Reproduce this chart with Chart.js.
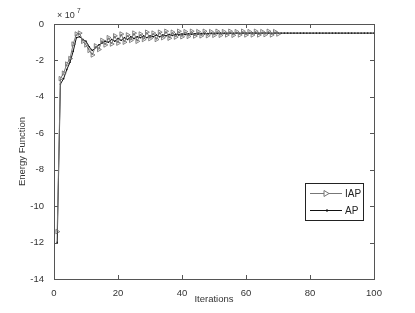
<!DOCTYPE html>
<html>
<head>
<meta charset="utf-8">
<script src="https://cdn.jsdelivr.net/npm/chart.js@4/dist/chart.umd.min.js"></script>
<style>
    html, body { margin: 0; padding: 0; background: #fff; }
    #wrap { width: 415px; height: 313px; position: relative; }
</style>
</head>
<body>
<div id="wrap"><canvas id="energyChart"></canvas></div>
<script>
    // energy values, in units of 1e7
    const apValues = [
        -12.0, -3.3, -3.0, -2.5, -2.1, -1.5, -0.75, -0.7, -0.85, -0.95,
        -1.25, -1.45, -1.3, -1.15, -1.05, -0.95, -1.0, -0.85, -0.95, -0.8,
        -0.9, -0.75, -0.85, -0.7, -0.8, -0.7, -0.75, -0.65, -0.75, -0.65,
        -0.7, -0.6, -0.7, -0.6, -0.65, -0.58, -0.63, -0.56, -0.6, -0.55,
        -0.58, -0.54, -0.56, -0.53, -0.55, -0.52, -0.54, -0.52, -0.53, -0.51,
        -0.52, -0.5, -0.52, -0.51, -0.5, -0.51, -0.5, -0.51, -0.5, -0.5,
        -0.51, -0.5, -0.5, -0.51, -0.5, -0.5, -0.5, -0.51, -0.5, -0.5,
        -0.5, -0.5, -0.5, -0.5, -0.5, -0.5, -0.5, -0.5, -0.5, -0.5,
        -0.5, -0.5, -0.5, -0.5, -0.5, -0.5, -0.5, -0.5, -0.5, -0.5,
        -0.5, -0.5, -0.5, -0.5, -0.5, -0.5, -0.5, -0.5, -0.5, -0.5
    ];
    const iapValues = [
        -11.4, -3.0, -2.7, -2.2, -1.9, -1.1, -0.55, -0.5, -0.95, -1.15,
        -1.45, -1.7, -1.2, -1.4, -0.9, -1.15, -0.75, -1.1, -0.65, -1.05,
        -0.55, -1.0, -0.6, -0.9, -0.5, -0.95, -0.55, -0.85, -0.45, -0.8,
        -0.5, -0.85, -0.45, -0.75, -0.4, -0.78, -0.45, -0.72, -0.4, -0.7,
        -0.42, -0.68, -0.4, -0.66, -0.42, -0.65, -0.4, -0.64, -0.42, -0.62,
        -0.4, -0.62, -0.42, -0.6, -0.4, -0.62, -0.42, -0.6, -0.4, -0.6,
        -0.42, -0.6, -0.4, -0.6, -0.42, -0.58, -0.4, -0.6, -0.42, -0.55
    ];
    const xTicks = [0, 20, 40, 60, 80, 100];
    const yTicks = [-14, -12, -10, -8, -6, -4, -2, 0];

    const toPoints = vals => vals.map((v, i) => ({ x: i + 1, y: v }));

    const FONT = 'Liberation Sans, Arial, sans-serif';

    // MATLAB-ish box, inward ticks, exponent note and legend
    const matlabFrame = {
        id: 'matlabFrame',
        afterDraw(chart) {
            const { ctx, chartArea: a, scales: { x, y } } = chart;
            ctx.save();
            ctx.lineWidth = 1;
            ctx.strokeStyle = '#555';
            ctx.strokeRect(a.left + 0.5, a.top + 0.5, a.right - a.left, a.bottom - a.top);

            ctx.beginPath();
            xTicks.forEach(t => {
                const px = Math.round(x.getPixelForValue(t)) + 0.5;
                ctx.moveTo(px, a.bottom); ctx.lineTo(px, a.bottom - 4);
                ctx.moveTo(px, a.top); ctx.lineTo(px, a.top + 4);
            });
            yTicks.forEach(t => {
                const py = Math.round(y.getPixelForValue(t)) + 0.5;
                ctx.moveTo(a.left, py); ctx.lineTo(a.left + 4, py);
                ctx.moveTo(a.right, py); ctx.lineTo(a.right - 4, py);
            });
            ctx.stroke();

            // exponent
            ctx.fillStyle = '#333';
            ctx.font = '9px ' + FONT;
            ctx.textBaseline = 'alphabetic';
            ctx.fillText('\u00d7 10', a.left + 3, a.top - 6);
            ctx.font = '6.5px ' + FONT;
            ctx.fillText('7', a.left + 23, a.top - 11);

            // legend
            const lx = 305, ly = 183, lw = 58, lh = 37;
            ctx.fillStyle = '#fff';
            ctx.fillRect(lx, ly, lw, lh);
            ctx.strokeStyle = '#222';
            ctx.strokeRect(lx + 0.5, ly + 0.5, lw, lh);

            ctx.strokeStyle = '#777';
            ctx.beginPath();
            ctx.moveTo(310, 193.5); ctx.lineTo(342, 193.5);
            ctx.stroke();
            ctx.beginPath();
            ctx.moveTo(324, 190.5); ctx.lineTo(329, 193.5); ctx.lineTo(324, 196.5); ctx.closePath();
            ctx.fillStyle = '#fff';
            ctx.fill();
            ctx.stroke();

            ctx.strokeStyle = '#111';
            ctx.beginPath();
            ctx.moveTo(310, 210.5); ctx.lineTo(342, 210.5);
            ctx.stroke();
            ctx.fillStyle = '#111';
            ctx.fillRect(326, 209.5, 2, 2);

            ctx.fillStyle = '#222';
            ctx.font = '10px ' + FONT;
            ctx.textBaseline = 'middle';
            ctx.fillText('IAP', 345, 194);
            ctx.fillText('AP', 345, 211);
            ctx.restore();
        }
    };

    new Chart(document.getElementById('energyChart'), {
        type: 'line',
        data: {
            datasets: [{
                label: 'IAP',
                data: toPoints(iapValues),
                borderColor: '#777',
                borderWidth: 1,
                pointStyle: 'triangle',
                rotation: 90,
                pointRadius: 2.6,
                pointBorderColor: '#666',
                pointBackgroundColor: 'rgba(255,255,255,0)',
                pointBorderWidth: 0.8,
                tension: 0
            }, {
                label: 'AP',
                data: toPoints(apValues),
                borderColor: '#111',
                borderWidth: 1,
                pointStyle: 'rect',
                pointRadius: 1,
                pointBorderWidth: 0,
                pointBackgroundColor: '#111',
                tension: 0
            }]
        },
        options: {
            responsive: true,
            maintainAspectRatio: false,
            animation: false,
            devicePixelRatio: 1,
            layout: { padding: { left: 17, top: 24, right: 41, bottom: 8 } },
            plugins: { legend: { display: false }, tooltip: { enabled: false } },
            scales: {
                x: {
                    type: 'linear',
                    min: 0, max: 100,
                    grid: { display: false },
                    border: { display: false },
                    afterBuildTicks: s => { s.ticks = xTicks.map(v => ({ value: v })); },
                    afterFit: s => { s.height = 26; },
                    ticks: { color: '#333', font: { family: FONT, size: 9.5 }, padding: 1 },
                    title: { display: true, text: 'Iterations', color: '#333', font: { family: FONT, size: 9.5 }, padding: { top: 0, bottom: 0 } }
                },
                y: {
                    min: -14, max: 0,
                    grid: { display: false },
                    border: { display: false },
                    afterBuildTicks: s => { s.ticks = yTicks.map(v => ({ value: v })); },
                    afterFit: s => { s.width = 37; },
                    ticks: { color: '#333', font: { family: FONT, size: 9.5 }, padding: 2 },
                    title: { display: true, text: 'Energy Function', color: '#333', font: { family: FONT, size: 9.5 }, padding: { top: 0, bottom: 0 } }
                }
            }
        },
        plugins: [matlabFrame]
    });
</script>
</body>
</html>
